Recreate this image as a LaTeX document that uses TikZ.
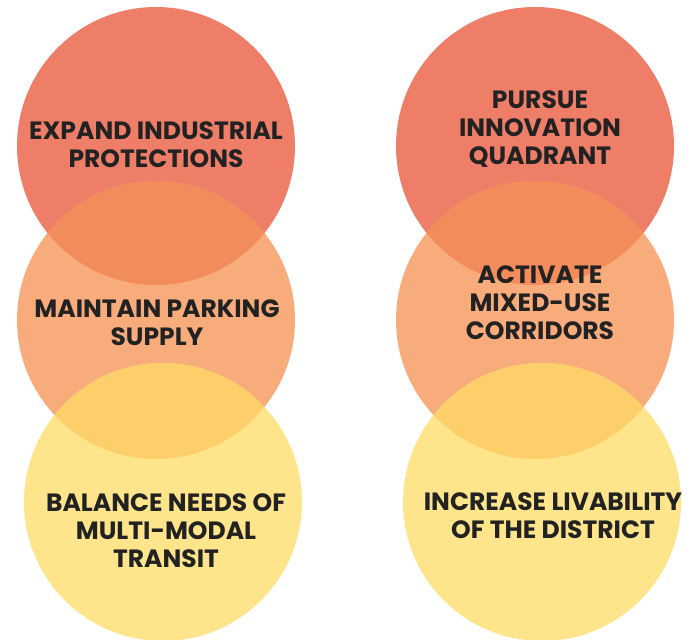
\documentclass[tikz,border=0pt]{standalone}
\usepackage{fontspec}
\setmainfont{Poppins}
\usetikzlibrary{positioning}

\definecolor{coral}{HTML}{EF7E68}
\definecolor{peach}{HTML}{F9AC7B}
\definecolor{sand}{HTML}{FEE58B}
\definecolor{coralpeach}{HTML}{F38C5B}
\definecolor{peachsand}{HTML}{FDCF6A}
\definecolor{ink}{HTML}{222222}

\begin{document}
\begin{tikzpicture}[x=1pt,y=-1pt,
  disc/.style={circle,minimum size=278pt,inner sep=0pt},
  goal/.style={align=center,text=ink,font=\bfseries\fontsize{25}{28}\selectfont}]
  \useasboundingbox (0,0) rectangle (694,640);

  % left column
  \node[disc,fill=coral] (l1) at (156,146) {};
  \node[disc,fill=peach] (l2) at (156,320) {};
  \node[disc,fill=sand]  (l3) at (163,502) {};
  % right column
  \node[disc,fill=coral] (r1) at (535,146) {};
  \node[disc,fill=peach] (r2) at (535,320) {};
  \node[disc,fill=sand]  (r3) at (542,502) {};

  % overlapping lenses
  \foreach \a/\b/\c in {l1/l2/coralpeach,l2/l3/peachsand,r1/r2/coralpeach,r2/r3/peachsand}{
    \begin{scope}
      \clip (\a.center) circle (139pt);
      \fill[\c] (\b.center) circle (139pt);
    \end{scope}
  }

  \node[goal] (t1) at (156,145) {EXPAND INDUSTRIAL\\PROTECTIONS};
  \node[goal] (t2) at (157,323) {MAINTAIN PARKING\\SUPPLY};
  \node[goal] (t3) at (166,531) {BALANCE NEEDS OF\\MULTI-MODAL\\TRANSIT};
  \node[goal] (t4) at (540,129) {PURSUE\\INNOVATION\\QUADRANT};
  \node[goal] (t5) at (540,303) {ACTIVATE\\MIXED-USE\\CORRIDORS};
  \node[goal] (t6) at (553,516) {INCREASE LIVABILITY\\OF THE DISTRICT};
\end{tikzpicture}
\end{document}
